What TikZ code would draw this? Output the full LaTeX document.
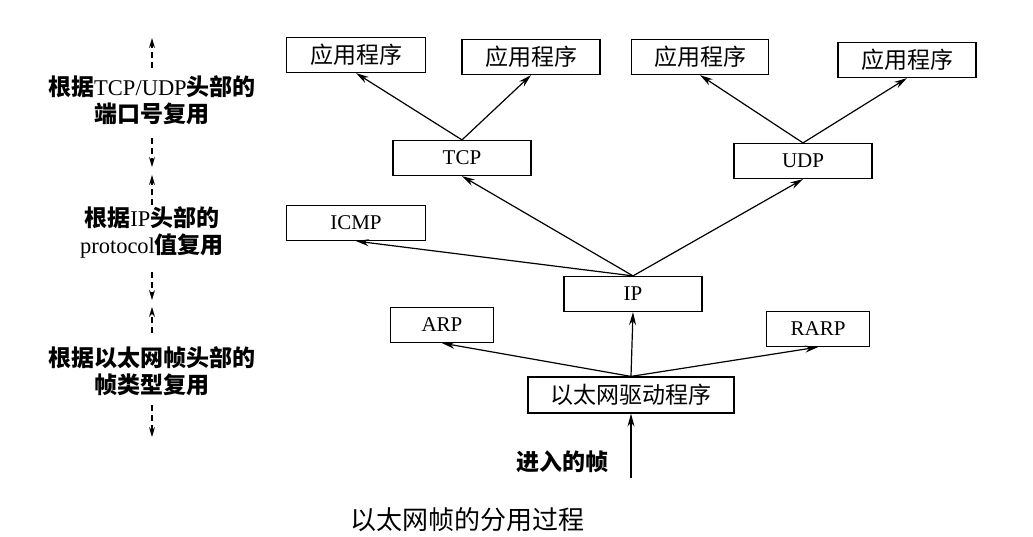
\documentclass[tikz,border=0pt]{standalone}
\usepackage{fontspec}
\setmainfont{Liberation Serif}
\newfontfamily\cjk{Noto Sans CJK SC}
\usetikzlibrary{positioning}
\usetikzlibrary{arrows.meta}
\newcommand{\zhb}[1]{{\cjk\bfseries\fontsize{23}{27}\selectfont #1}}

\tikzset{
    layer/.style={draw, line width=1.2pt, minimum height=35pt, inner sep=0pt, font=\fontsize{21}{24}\selectfont},
    zhlayer/.style={layer, font=\cjk\fontsize{23}{26}\selectfont},
    up/.style={-{Stealth[length=13pt,width=7pt]}, line width=1.2pt},
    hint/.style={-{Stealth[length=10pt,width=6pt]}, line width=1.3pt, dash pattern=on 6pt off 4pt},
    side/.style={align=center, font=\fontsize{22.5}{27}\selectfont},
}

\begin{document}
\begin{tikzpicture}[x=1pt, y=-1pt]
    \useasboundingbox (0,0) rectangle (1033,536);

    % application layer
    \node[zhlayer, minimum width=139pt] (app1) at (356, 55) {应用程序};
    \node[zhlayer, minimum width=138pt] (app2) at (531, 57) {应用程序};
    \node[zhlayer, minimum width=137pt] (app3) at (700, 57) {应用程序};
    \node[zhlayer, minimum width=138pt] (app4) at (907, 60) {应用程序};

    % transport and network layer
    \node[layer, minimum width=138pt] (tcp) at (462, 158) {TCP};
    \node[layer, minimum width=138pt] (udp) at (803, 161) {UDP};
    \node[layer, minimum width=139pt] (icmp) at (356, 223) {ICMP};
    \node[layer, minimum width=138pt] (ip) at (633, 294) {IP};
    \node[layer, minimum width=103pt] (arp) at (442, 325) {ARP};
    \node[layer, minimum width=103pt] (rarp) at (818, 329) {RARP};
    \node[zhlayer, minimum width=206pt, minimum height=36pt] (eth) at (631, 395) {以太网驱动程序};

    \coordinate (in) at (631, 478);
    \node (inlbl) at (562, 462) {\zhb{进入的帧}};
    \node[font=\cjk\fontsize{26}{30}\selectfont] (title) at (467, 520) {以太网帧的分用过程};

    \draw[up] (in) -- (eth.south);
    \draw[up] (eth.north) -- (ip.south);
    \draw[up] (eth.north) -- (arp.south);
    \draw[up] (eth.north) -- (rarp.south);
    \draw[up] (ip.north) -- (icmp.south);
    \draw[up] (ip.north) -- (tcp.south);
    \draw[up] (ip.north) -- (udp.south);
    \draw[up] (tcp.north) -- (app1.south);
    \draw[up] (tcp.north) -- (app2.south);
    \draw[up] (udp.north) -- (app3.south);
    \draw[up] (udp.north) -- (app4.south);

    % demultiplexing levels
    \node[side] (lvl1) at (152, 100) {\zhb{根据}TCP/UDP\zhb{头部的}\\\zhb{端口号复用}};
    \node[side] (lvl2) at (152, 232) {\zhb{根据}IP\zhb{头部的}\\protocol\zhb{值复用}};
    \node[side] (lvl3) at (152, 371) {\zhb{根据以太网帧头部的}\\\zhb{帧类型复用}};

    \coordinate (a1) at (152, 68);  \coordinate (b1) at (152, 38);
    \coordinate (a2) at (152, 138); \coordinate (b2) at (152, 167);
    \coordinate (a3) at (152, 205); \coordinate (b3) at (152, 175);
    \coordinate (a4) at (152, 272); \coordinate (b4) at (152, 300);
    \coordinate (a5) at (152, 333); \coordinate (b5) at (152, 307);
    \coordinate (a6) at (152, 405); \coordinate (b6) at (152, 437);
    \foreach \i in {1,...,6}
        \draw[hint] (a\i) -- (b\i);
\end{tikzpicture}
\end{document}
